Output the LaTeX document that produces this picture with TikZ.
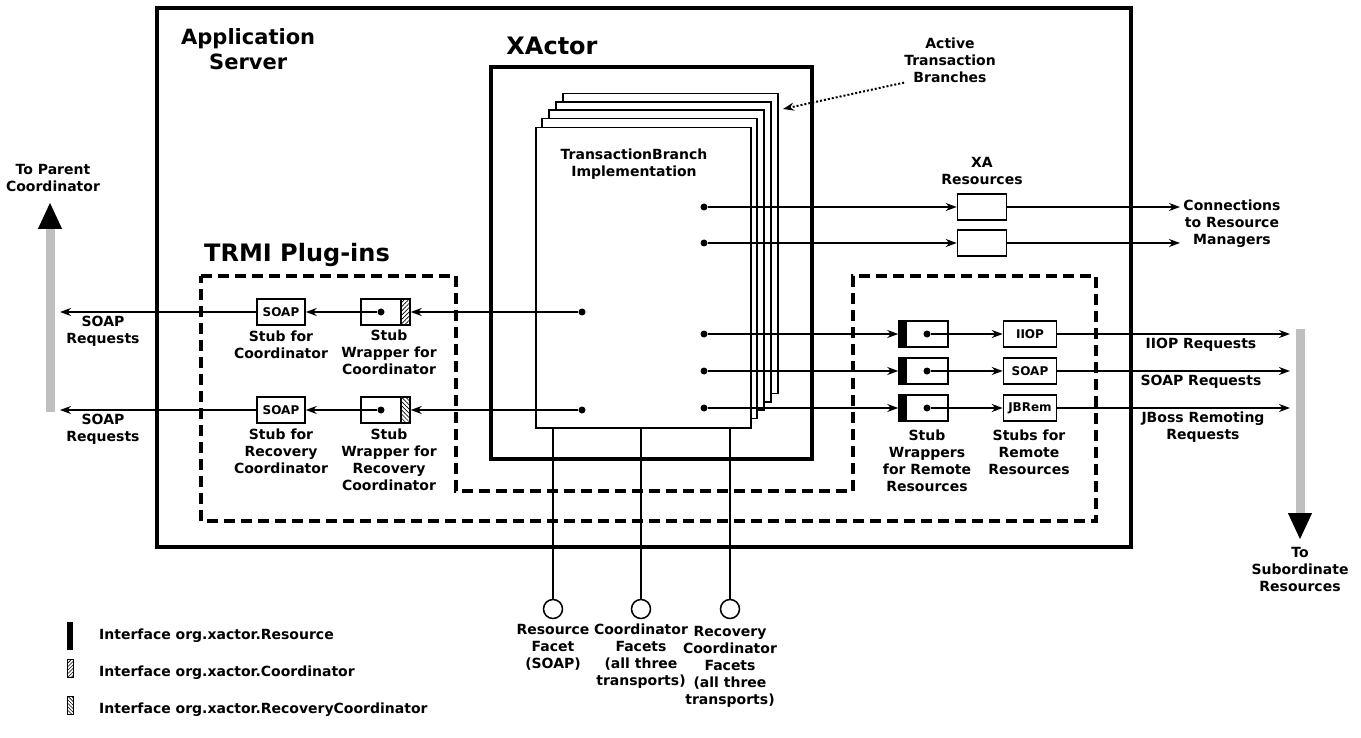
\documentclass[tikz,border=0pt]{standalone}
\usepackage{fontspec}
\setmainfont{DejaVu Sans}
\usetikzlibrary{arrows.meta,positioning,calc,patterns.meta}
\tikzset{
  lbl/.style={
    align=center,
    inner sep=0pt,
    font=\fontsize{14}{17}\selectfont\bfseries
  },
  big lbl/.style={
    lbl,
    font=\fontsize{24}{28}\selectfont\bfseries
  },
  dot/.style={
    circle,
    fill,
    inner sep=0pt,
    minimum size=7pt
  },
  stub/.style={
    draw,
    fill=white,
    line width=1.5pt,
    minimum width=48pt,
    minimum height=26pt,
    inner sep=0pt,
    font=\fontsize{12}{14}\selectfont\bfseries
  },
  wrapper/.style={
    draw,
    fill=white,
    line width=1.5pt,
    minimum width=49pt,
    minimum height=26pt,
    inner sep=0pt
  },
  resource wrapper/.style={
    wrapper,
    path picture={
      \fill[black] (path picture bounding box.south west) rectangle ([xshift=8pt]path picture bounding box.north west);
    }
  },
  hatch wrapper/.style={
    wrapper,
    path picture={
      \fill[pattern={Lines[angle=#1,distance=3pt,line width=.7pt]}] ([xshift=-9pt]path picture bounding box.north east) rectangle (path picture bounding box.south east);
      \draw[line width=1.5pt] ([xshift=-9pt]path picture bounding box.north east) -- ([xshift=-9pt]path picture bounding box.south east);
    }
  },
  facet/.style={
    circle,
    draw,
    fill=white,
    line width=1.5pt,
    minimum size=19pt,
    inner sep=0pt
  },
  wire/.style={line width=2pt},
  req/.style={wire,-{Stealth[length=11pt,width=8pt]}},
  flow/.style={line width=9pt,draw=black!25,-{Triangle[length=27pt,width=22pt,black]}}
}

\begin{document}
\begin{tikzpicture}[x=1pt,y=-1pt]
    \useasboundingbox (0,0) rectangle (1361,738);

    % frames
    \draw[line width=4pt] (157,8) rectangle (1131,547);
    \draw[line width=4pt,dash pattern=on 11pt off 6pt]
      (201,276) -- (456,276) -- (456,491) -- (853,491) -- (853,276)
      -- (1096,276) -- (1096,521) -- (201,521) -- cycle;
    \draw[line width=4pt] (491,67) rectangle (812,459);

    % stack of branches
    \foreach \i in {4,3,2,1}
      \draw[fill=white,line width=1.5pt] (535+7*\i,127-8.4*\i) rectangle ++(215,300);

    \path{
      node[draw,fill=white,line width=1.5pt,minimum width=215pt,minimum height=300pt,anchor=north west] (tb) at (535,127) {}
      node[lbl,anchor=north] (tbl) at (634,149) {TransactionBranch\\Implementation}

      node[lbl,anchor=north west,font=\fontsize{21}{25}\selectfont\bfseries] (appl) at (181,28) {Application\\Server}
      node[big lbl] (xal) at (552,46) {XActor}
      node[big lbl] (trmil) at (297,255) {TRMI Plug-ins}
      node[lbl] (atb) at (950,60) {Active\\Transaction\\Branches}
      coordinate (atbtip) at (783,109)

      node[dot] (d1) at (704,207) {}
      node[dot] (d2) at (704,243) {}
      node[dot] (d3) at (704,334) {}
      node[dot] (d4) at (704,371) {}
      node[dot] (d5) at (704,408) {}
      node[dot] (dl1) at (582,312) {}
      node[dot] (dl2) at (582,410) {}

      node[stub,minimum width=49pt] (xa1) at (982,207) {}
      node[stub,minimum width=49pt] (xa2) at (982,243) {}
      node[lbl,anchor=north] (xar) at (982,157) {XA\\Resources}
      coordinate (cm1) at (1180,207)
      coordinate (cm2) at (1180,243)
      node[lbl] (cml) at (1232,224) {Connections\\to Resource\\Managers}

      node[resource wrapper] (rw1) at (923.5,334) {}
      node[resource wrapper] (rw2) at (923.5,371) {}
      node[resource wrapper] (rw3) at (923.5,408) {}
      node[dot] (rwd1) at (927,334) {}
      node[dot] (rwd2) at (927,371) {}
      node[dot] (rwd3) at (927,408) {}
      node[stub,minimum width=53pt] (rs1) at (1030,334) {IIOP}
      node[stub,minimum width=53pt] (rs2) at (1030,371) {SOAP}
      node[stub,minimum width=53pt] (rs3) at (1030,408) {JBRem}
      coordinate (rq1) at (1290,334)
      coordinate (rq2) at (1290,371)
      coordinate (rq3) at (1290,408)
      node[lbl,anchor=north] (rql1) at (1201,338) {IIOP Requests}
      node[lbl,anchor=north] (rql2) at (1201,375) {SOAP Requests}
      node[lbl,anchor=north] (rql3) at (1203,412) {JBoss Remoting\\Requests}
      node[lbl,anchor=north] (rwl) at (927,430) {Stub\\Wrappers\\for Remote\\Resources}
      node[lbl,anchor=north] (rsl) at (1029,430) {Stubs for\\Remote\\Resources}

      node[hatch wrapper=45] (lw1) at (385.5,312) {}
      node[hatch wrapper=-45] (lw2) at (385.5,410) {}
      node[dot] (lwd1) at (381,312) {}
      node[dot] (lwd2) at (381,410) {}
      node[stub] (ls1) at (281,312) {SOAP}
      node[stub] (ls2) at (281,410) {SOAP}
      coordinate (sp1) at (60,312)
      coordinate (sp2) at (60,410)
      node[lbl,anchor=north] (spl1) at (103,316) {SOAP\\Requests}
      node[lbl,anchor=north] (spl2) at (103,414) {SOAP\\Requests}
      node[lbl,anchor=north] (lsl1) at (281,331) {Stub for\\Coordinator}
      node[lbl,anchor=north] (lsl2) at (281,429) {Stub for\\Recovery\\Coordinator}
      node[lbl,anchor=north] (lwl1) at (389,330) {Stub\\Wrapper for\\Coordinator}
      node[lbl,anchor=north] (lwl2) at (389,429) {Stub\\Wrapper for\\Recovery\\Coordinator}

      node[facet] (rf) at (553,609) {}
      node[facet] (cf) at (641,609) {}
      node[facet] (rcf) at (730,609) {}
      node[lbl,anchor=north] (rfl) at (553,624) {Resource\\Facet\\(SOAP)}
      node[lbl,anchor=north] (cfl) at (641,624) {Coordinator\\Facets\\(all three\\transports)}
      node[lbl,anchor=north] (rcfl) at (730,626) {Recovery\\Coordinator\\Facets\\(all three\\transports)}

      coordinate (pc0) at (50,412)
      coordinate (pc1) at (50,202)
      node[lbl,anchor=south] (pcl) at (53,192) {To Parent\\Coordinator}
      coordinate (sr0) at (1300,329)
      coordinate (sr1) at (1300,540)
      node[lbl,anchor=north] (srl) at (1300,547) {To\\Subordinate\\Resources}

      node[fill,minimum width=6pt,minimum height=28pt,inner sep=0pt] (lg1) at (70,636) {}
      node[draw,line width=.8pt,pattern={Lines[angle=45,distance=2.5pt,line width=.6pt]},minimum width=6pt,minimum height=18pt,inner sep=0pt] (lg2) at (70,668) {}
      node[draw,line width=.8pt,pattern={Lines[angle=-45,distance=2.5pt,line width=.6pt]},minimum width=6pt,minimum height=18pt,inner sep=0pt] (lg3) at (70,705) {}
      node[lbl,anchor=west] (lgl1) at (99,636) {Interface org.xactor.Resource}
      node[lbl,anchor=west] (lgl2) at (99,673) {Interface org.xactor.Coordinator}
      node[lbl,anchor=west] (lgl3) at (99,710) {Interface org.xactor.RecoveryCoordinator}
    };

    % facets hang below the branch
    \path[draw,wire]{
      (rf |- tb.south) edge (rf)
      (cf |- tb.south) edge (cf)
      (rcf |- tb.south) edge (rcf)
    };

    \path[draw,req]{
      (d1) edge (xa1)
      (d2) edge (xa2)
      (xa1) edge (cm1)
      (xa2) edge (cm2)
      (d3) edge (rw1)
      (d4) edge (rw2)
      (d5) edge (rw3)
      (rwd1) edge (rs1)
      (rwd2) edge (rs2)
      (rwd3) edge (rs3)
      (rs1) edge (rq1)
      (rs2) edge (rq2)
      (rs3) edge (rq3)
      (dl1) edge (lw1)
      (dl2) edge (lw2)
      (lwd1) edge (ls1)
      (lwd2) edge (ls2)
      (ls1) edge (sp1)
      (ls2) edge (sp2)
    };

    \draw[line width=2pt,dotted,-{Stealth[length=11pt,width=8pt]}] (atb.south west) -- (atbtip);

    \draw[flow] (pc0) -- (pc1);
    \draw[flow] (sr0) -- (sr1);
  \end{tikzpicture}
\end{document}
